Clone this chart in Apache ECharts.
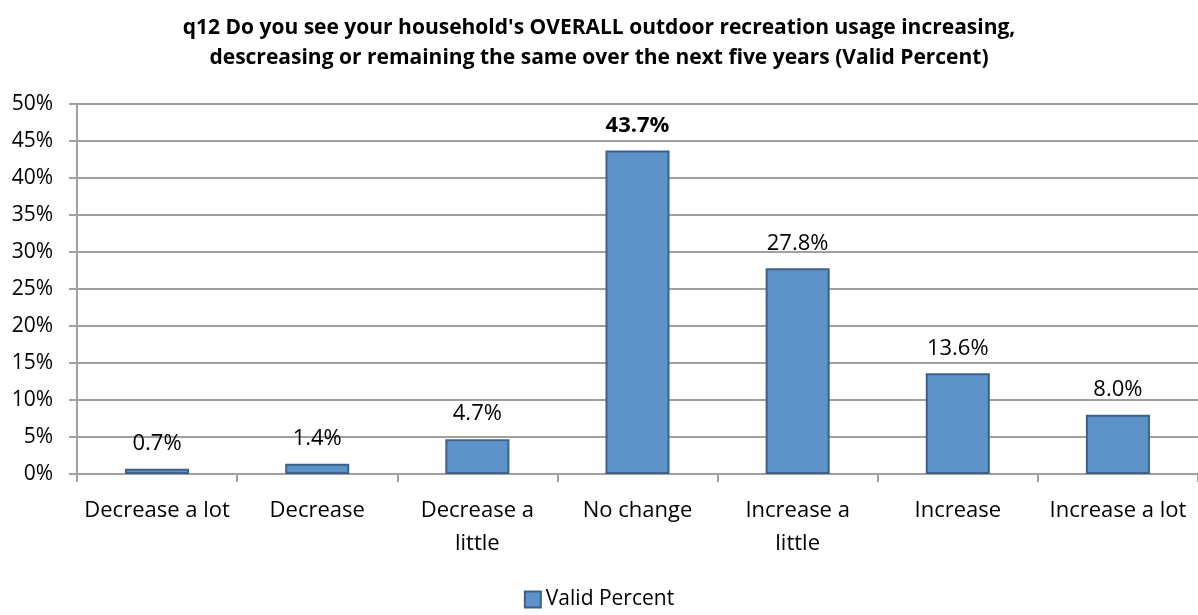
<!DOCTYPE html>
<html>
<head>
<meta charset="utf-8">
<script src="https://cdn.jsdelivr.net/npm/echarts@6/dist/echarts.min.js"></script>
<style>
  html, body { margin: 0; padding: 0; background: #fff; }
  #chart { width: 1198px; height: 615px; }
</style>
</head>
<body>
<div id="chart"></div>
<script>
var categories = ['Decrease a lot', 'Decrease', 'Decrease a\nlittle', 'No change', 'Increase a\nlittle', 'Increase', 'Increase a lot'];
var validPercent = [0.7, 1.4, 4.7, 43.7, 27.8, 13.6, 8.0];
var boldIndex = 3; // highest value label is bold in the original

var font = '"Open Sans", sans-serif';

var myChart = echarts.init(document.getElementById('chart'));

var seriesData = validPercent.map(function (v, i) {
    var item = { value: v };
    if (i === boldIndex) {
        item.label = { fontWeight: 'bold' };
    }
    return item;
});

var option = {
    animation: false,
    title: {
        text: "q12 Do you see your household's OVERALL outdoor recreation usage increasing,\ndescreasing or remaining the same over the next five years (Valid Percent)",
        left: 'center',
        top: 8,
        textStyle: {
            fontFamily: font,
            fontSize: 21,
            fontWeight: 'bold',
            color: '#000',
            lineHeight: 30
        }
    },
    legend: {
        bottom: 0,
        left: 'center',
        itemWidth: 16,
        itemHeight: 16,
        itemGap: 4,
        icon: 'rect',
        textStyle: { fontFamily: font, fontSize: 21, color: '#000' },
        data: ['Valid Percent']
    },
    grid: {
        left: 77,
        right: -2,
        top: 104,
        bottom: 141,
        containLabel: false
    },
    xAxis: {
        type: 'category',
        data: categories,
        axisLine: { lineStyle: { color: '#a0a0a0', width: 2 } },
        axisTick: { show: true, length: 8, lineStyle: { color: '#a0a0a0', width: 2 } },
        axisLabel: {
            fontFamily: font,
            fontSize: 22,
            color: '#000',
            margin: 20,
            lineHeight: 33,
            interval: 0
        }
    },
    yAxis: {
        type: 'value',
        min: 0,
        max: 50,
        interval: 5,
        axisLine: { show: true, lineStyle: { color: '#a0a0a0', width: 2 } },
        axisTick: { show: true, length: 8, lineStyle: { color: '#a0a0a0', width: 2 } },
        axisLabel: {
            fontFamily: font,
            fontSize: 21,
            color: '#000',
            margin: 24,
            formatter: '{value}%'
        },
        splitLine: { lineStyle: { color: '#a0a0a0', width: 2 } }
    },
    series: [{
        name: 'Valid Percent',
        type: 'bar',
        barWidth: '40%',
        data: seriesData,
        itemStyle: {
            color: '#5d93c9',
            borderColor: '#3c628c',
            borderWidth: 2
        },
        label: {
            show: true,
            position: 'top',
            distance: 14,
            fontFamily: font,
            fontSize: 22,
            color: '#000',
            formatter: function (p) { return p.value.toFixed(1) + '%'; }
        }
    }]
};

myChart.setOption(option);
</script>
</body>
</html>
